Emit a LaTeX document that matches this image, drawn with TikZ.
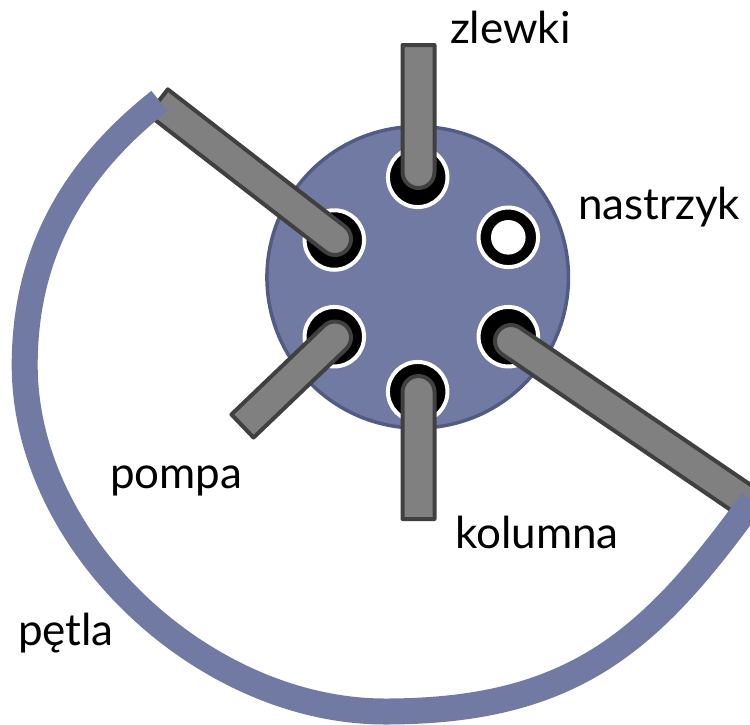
\documentclass[tikz,border=0pt]{standalone}
\usepackage{fontspec}
\setmainfont{Lato}
\usetikzlibrary{calc}
\definecolor{loopblue}{HTML}{717AA3}
\definecolor{valveedge}{HTML}{515C85}
\definecolor{tubefill}{HTML}{808080}
\definecolor{tubeedge}{HTML}{404040}
\tikzset{
  valve/.style={circle,fill=loopblue,draw=valveedge,line width=3.5pt,minimum size=301.5pt,inner sep=0pt,outer sep=0pt},
  port/.style={circle,fill=black,draw=white,line width=4pt,minimum size=59.5pt,inner sep=0pt,outer sep=0pt},
  opening/.style={circle,fill=white,minimum size=34.6pt,inner sep=0pt,outer sep=0pt},
  tubeline/.style={fill=tubefill,draw=tubeedge,line width=4pt,line join=round},
  looppath/.style={draw=loopblue,line width=26pt,line cap=butt},
  lbl/.style={anchor=base west,inner sep=0pt,outer sep=0pt,font=\fontsize{44}{44}\selectfont}
}
\newcommand{\tubefrom}[2]{%
  \path[tubeline] let \p1=($(#2)-(#1)$), \n1={atan2(\y1,\x1)} in
    ($(#1)!16pt!90:(#2)$) arc[start angle=\n1+90,delta angle=180,radius=16pt]
    -- ($(#2)!16pt!90:(#1)$) -- ($(#2)!16pt!-90:(#1)$) -- cycle;}
\begin{document}
\begin{tikzpicture}[x=1pt,y=-1pt]
\useasboundingbox (0,0) rectangle (750,724);
\node[valve] (valve) at (417.7,277.3) {};
\node[port] (ptop) at (417.7,177.3) {};
\node[port] (pur) at (508.3,237.3) {};
\node[opening] (open) at (pur) {};
\node[port] (plr) at (508.3,336.7) {};
\node[port] (pbot) at (417.7,391.7) {};
\node[port] (pll) at (334.3,336.7) {};
\node[port] (pul) at (334.3,240) {};
\coordinate (t1a) at (418.5,172); \coordinate (t1b) at (418.5,45);
\coordinate (t2a) at (335,239);   \coordinate (t2b) at (158,102);
\coordinate (t3a) at (335,337.5); \coordinate (t3b) at (242.5,426);
\coordinate (t4a) at (418.5,392); \coordinate (t4b) at (418.5,519);
\coordinate (t5a) at (511,341);   \coordinate (t5b) at (765,514);
\tubefrom{t1a}{t1b}
\tubefrom{t2a}{t2b}
\tubefrom{t3a}{t3b}
\tubefrom{t4a}{t4b}
\tubefrom{t5a}{t5b}
\draw[looppath] (159.5,101) .. controls (72,170) and (24.7,255) .. (24.7,365)
  .. controls (24.7,545) and (205,711.5) .. (385,711.5)
  .. controls (575,711.5) and (652,639) .. (752,501);
\node[lbl] (zlewki) at (450,43) {zlewki};
\node[lbl] (nastrzyk) at (578,219) {nastrzyk};
\node[lbl] (pompa) at (110,488) {pompa};
\node[lbl] (kolumna) at (455,548) {kolumna};
\node[lbl] (petla) at (18,645) {pętla};
\end{tikzpicture}
\end{document}
